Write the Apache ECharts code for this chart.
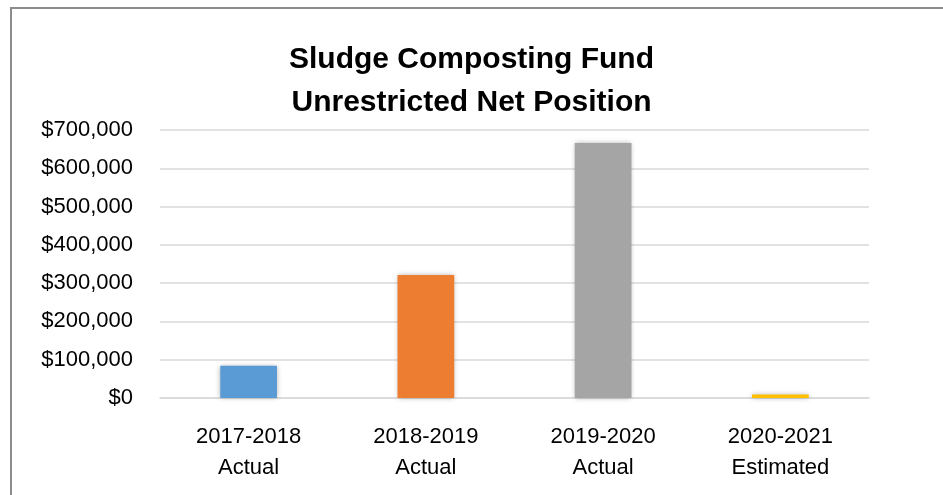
<!DOCTYPE html>
<html>
<head>
<meta charset="utf-8">
<script src="https://cdn.jsdelivr.net/npm/echarts@6/dist/echarts.min.js"></script>
<style>
  html, body { margin: 0; padding: 0; background: #fff; overflow: hidden; }
  #frame {
    position: absolute; left: 10px; top: 7px; width: 943px; height: 495px;
    border-left: 2px solid #8c8c8c; border-top: 2px solid #8c8c8c;
  }
  #chart { position: absolute; left: 0; top: 0; width: 943px; height: 495px; }
</style>
</head>
<body>
<div id="frame"></div>
<div id="chart"></div>
<script>
const years = ['2017-2018', '2018-2019', '2019-2020', '2020-2021'];
const kinds = ['Actual', 'Actual', 'Actual', 'Estimated'];
const netPosition = [84000, 321000, 666000, 9000];
const barColors = ['#5b9bd5', '#ed7d31', '#a5a5a5', '#ffc000'];

const font = "'Liberation Sans', Arial, sans-serif";

document.addEventListener('DOMContentLoaded', () => {
  const chart = echarts.init(document.getElementById('chart'));

  chart.setOption({
    animation: false,
    title: {
      text: 'Sludge Composting Fund\nUnrestricted Net Position',
      left: 'center',
      top: 33,
      textStyle: {
        fontFamily: font,
        fontSize: 30,
        fontWeight: 'bold',
        color: '#000',
        lineHeight: 43
      }
    },
    grid: {
      left: 160,
      right: 74,
      top: 130,
      bottom: 97
    },
    xAxis: {
      type: 'category',
      data: years.map((y, i) => y + '\n' + kinds[i]),
      axisTick: { show: false },
      axisLine: { lineStyle: { color: '#d9d9d9', width: 1.5 } },
      axisLabel: {
        fontFamily: font,
        fontSize: 22,
        color: '#000',
        lineHeight: 31,
        margin: 23
      }
    },
    yAxis: {
      type: 'value',
      min: 0,
      max: 700000,
      interval: 100000,
      axisLine: { show: false },
      axisTick: { show: false },
      axisLabel: {
        fontFamily: font,
        fontSize: 22,
        color: '#000',
        margin: 27,
        formatter: (v) => '$' + v.toLocaleString('en-US')
      },
      splitLine: { lineStyle: { color: '#d9d9d9', width: 1.5 } }
    },
    series: [{
      type: 'bar',
      data: netPosition.map((v, i) => ({ value: v, itemStyle: { color: barColors[i] } })),
      barWidth: '32%',
      itemStyle: {
        shadowBlur: 5,
        shadowColor: 'rgba(0, 0, 0, 0.3)'
      }
    }]
  });
});
</script>
</body>
</html>
